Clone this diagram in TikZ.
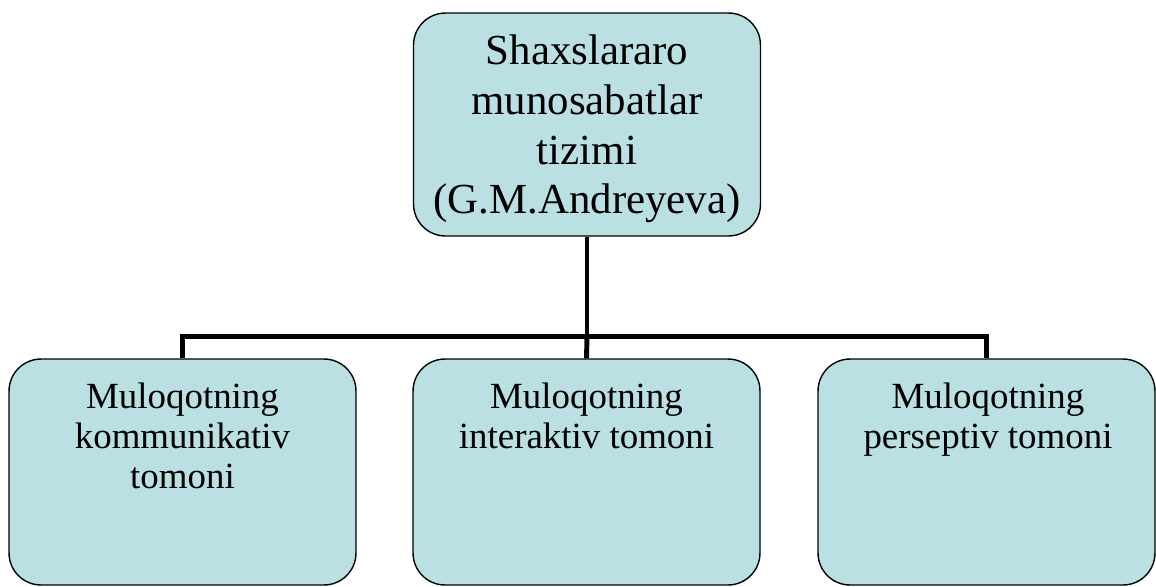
\documentclass[tikz,border=0pt]{standalone}
\usepackage{fontspec}
\setmainfont{Liberation Serif}
\usepackage{xcolor}
\usetikzlibrary{positioning, calc}
\definecolor{boxblue}{RGB}{186,224,228}

\begin{document}
\begin{tikzpicture}[x=0.02cm, y=-0.02cm,
    card/.style={draw=black, line width=0.8pt, fill=boxblue, rounded corners=0.64cm,
                 inner sep=0pt, minimum width=6.94cm, minimum height=4.5cm},
    toplabel/.style={align=center, inner sep=0pt, font=\fontsize{24.4}{28.3}\selectfont},
    sublabel/.style={align=center, inner sep=0pt, anchor=north, font=\fontsize{21}{22.7}\selectfont},
    conn/.style={line width=2.8pt}]
  \useasboundingbox (0,0) rectangle (1156,586);

  % boxes
  \node[card, minimum height=4.46cm] (root) at (587,124.5) {};
  \node[card, minimum height=4.52cm] (kom) at (182.5,472) {};
  \node[card, minimum height=4.52cm] (inter) at (586.5,472) {};
  \node[card, minimum width=6.74cm, minimum height=4.52cm] (pers) at (986.5,472) {};

  % labels
  \node[toplabel] (roottxt) at (587,129) {Shaxslararo\\munosabatlar\\tizimi\\(G.M.Andreyeva)};
  \node[sublabel] (komtxt) at (182.5,383) {Muloqotning\\kommunikativ\\tomoni};
  \node[sublabel] (intertxt) at (586.5,383) {Muloqotning\\interaktiv tomoni};
  \node[sublabel] (perstxt) at (988,383) {Muloqotning\\perseptiv tomoni};

  % connectors
  \draw[conn] (root.south) -- ++(0,100) coordinate (hub);
  \draw[conn] (kom.north) |- (hub) -| (pers.north);
  \draw[conn] (hub) -- (inter.north);
\end{tikzpicture}
\end{document}
